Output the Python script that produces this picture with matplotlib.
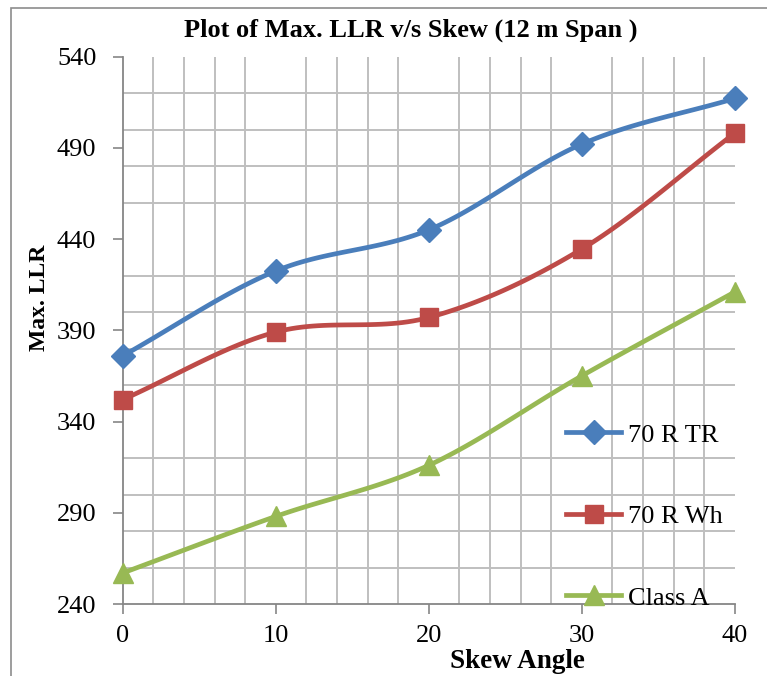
import matplotlib
matplotlib.use("Agg")
import matplotlib.pyplot as plt
from matplotlib.patches import Rectangle
import numpy as np

#Datos
skew = [0, 10, 20, 30, 40]
tr70 = [376, 422.5, 445, 492, 517]
wh70 = [352, 389, 397, 434.5, 498]
classA = [257, 288, 316, 365, 411]
nombres = ['70 R TR', '70 R Wh', 'Class A']

plt.rcParams['font.family'] = ['Liberation Serif', 'DejaVu Serif']


def suave(x, y, n=30):
    #curva suavizada tipo Excel (Catmull-Rom)
    x = np.asarray(x, float)
    y = np.asarray(y, float)
    px = np.concatenate([[2*x[0]-x[1]], x, [2*x[-1]-x[-2]]])
    py = np.concatenate([[2*y[0]-y[1]], y, [2*y[-1]-y[-2]]])
    xs, ys = [], []
    for i in range(1, len(px)-2):
        t = np.linspace(0, 1, n)
        for p, out in ((px, xs), (py, ys)):
            p0, p1, p2, p3 = p[i-1], p[i], p[i+1], p[i+2]
            c1 = p1 + (p2 - p0) / 6
            c2 = p2 - (p3 - p1) / 6
            out.extend((1-t)**3*p1 + 3*(1-t)**2*t*c1 + 3*(1-t)*t**2*c2 + t**3*p2)
    return xs, ys


fig = plt.figure(figsize=(7.67, 6.76), dpi=100)
ax = fig.add_axes([0.160, 0.1065, 0.798, 0.8099])

#marco exterior
fig.patches.append(Rectangle((11/767, -0.1), 1.2, 1-8/676+0.1, transform=fig.transFigure,
                             fill=False, edgecolor='#8c8c8c', linewidth=1.2))

series = [
    (tr70, '#4A7EBB', 'D', 12.5),
    (wh70, '#BE4B48', 's', 13),
    (classA, '#98B954', '^', 14.5),
]
handles = []
for (vals, col, mk, ms), nom in zip(series, nombres):
    xs, ys = suave(skew, vals)
    ax.plot(xs, ys, color=col, linewidth=3.4, solid_capstyle='round', clip_on=False, zorder=3)
    ax.plot(skew, vals, linestyle='none', marker=mk, markersize=ms, color=col,
            markeredgecolor=col, clip_on=False, zorder=4)
    h, = ax.plot([], [], color=col, linewidth=3.4, marker=mk, markersize=ms)
    handles.append(h)

ax.set_xlim(0, 40)
ax.set_ylim(240, 540)
ax.set_xticks(range(0, 41, 10))
ax.set_yticks(range(240, 541, 50))
ax.set_xticks(np.arange(0, 41, 2), minor=True)
ax.set_yticks(range(240, 541, 20), minor=True)
ax.grid(which='minor', color='#bfbfbf', linewidth=1.4)
ax.grid(which='major', visible=False)
ax.tick_params(which='minor', length=0)
ax.tick_params(which='major', direction='out', length=7, width=1.2, color='#868686',
               labelsize=19)
ax.tick_params(axis='y', which='major', pad=12)
ax.tick_params(axis='x', which='major', pad=8)
for s in ['top', 'right']:
    ax.spines[s].set_visible(False)
for s in ['left', 'bottom']:
    ax.spines[s].set_color('#868686')
    ax.spines[s].set_linewidth(1.3)
ax.set_axisbelow(True)

fig.text(0.536, 0.955, 'Plot of Max. LLR v/s Skew (12 m Span )', ha='center', va='center',
         fontsize=19, fontweight='bold')
fig.text(0.051, 0.559, 'Max. LLR', rotation=90, ha='center', va='center',
         fontsize=17, fontweight='bold')
fig.text(0.675, 0.022, 'Skew Angle', ha='center', va='center', fontsize=19.5, fontweight='bold')

fig.legend(handles, nombres, loc='center left', bbox_to_anchor=(0.738, 0.236),
           frameon=False, fontsize=19, handlelength=2.1, handletextpad=0.25,
           labelspacing=2.2, borderpad=0, borderaxespad=0)

fig.savefig('out.png', dpi=100)
